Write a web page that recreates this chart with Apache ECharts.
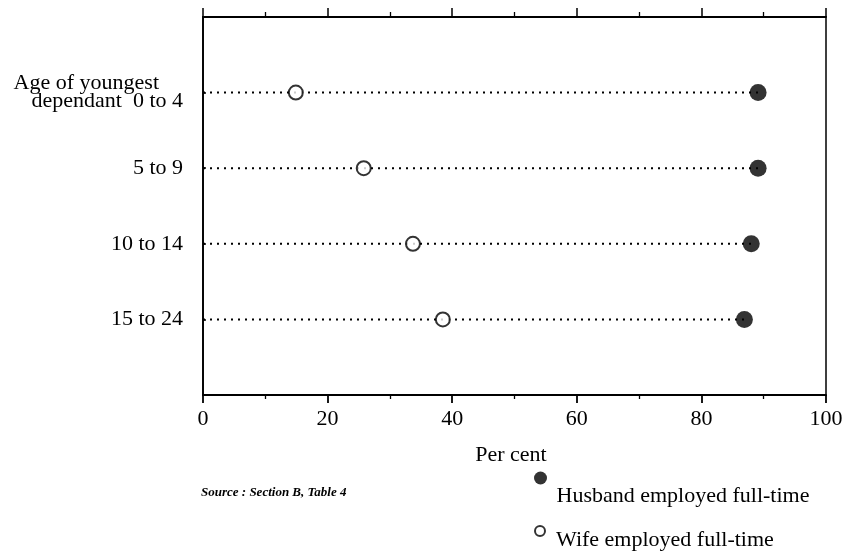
<!DOCTYPE html>
<html><head><meta charset="utf-8">
<script src="https://cdn.jsdelivr.net/npm/echarts@6/dist/echarts.min.js"></script>
<style>html,body{margin:0;padding:0;background:#fff}#c{width:850px;height:559px}</style>
</head><body><div id="c"></div>
<script>
var categories = ['', '0 to 4', '5 to 9', '10 to 14', '15 to 24', ''];
var groups = ['0 to 4', '5 to 9', '10 to 14', '15 to 24'];
var husband = [89.1, 89.1, 88.0, 86.9];
var wife = [14.9, 25.8, 33.7, 38.5];
var xTicks = [0, 20, 40, 60, 80, 100];

var serif = '"Liberation Serif", "Times New Roman", serif';
var chart = echarts.init(document.getElementById('c'));

var lineSeries = groups.map(function (g, i) {
  return {
    type: 'line', silent: true, symbol: 'none', xAxisIndex: 0,
    data: [[0, g], [husband[i], g]],
    lineStyle: {color: '#000', width: 2, type: [2, 5]},
    z: 1
  };
});

chart.setOption({
  animation: false,
  grid: {left: 203, right: 24, top: 17, bottom: 164, show: true, borderColor: '#000', borderWidth: 1.5},
  xAxis: [{
    type: 'value', min: 0, max: 100, interval: 20, position: 'bottom',
    axisLine: {show: true, lineStyle: {color: '#000', width: 1.8}},
    axisTick: {show: true, length: 8, lineStyle: {color: '#000', width: 1.8}},
    minorTick: {show: true, splitNumber: 2, length: 4, lineStyle: {color: '#000', width: 1.3}},
    splitLine: {show: false},
    axisLabel: {color: '#000', fontFamily: serif, fontSize: 22, margin: 13,
      formatter: function (v) { return xTicks.indexOf(v) >= 0 ? String(v) : ''; }},
    name: 'Per cent', nameLocation: 'middle', nameGap: 49,
    nameTextStyle: {color: '#000', fontFamily: serif, fontSize: 22, padding: [0, 7, 0, 0]}
  }, {
    type: 'value', min: 0, max: 100, interval: 20, position: 'top',
    axisLine: {show: true, lineStyle: {color: '#000', width: 1.8}},
    axisTick: {show: true, length: 9, lineStyle: {color: '#000', width: 1.5}},
    minorTick: {show: true, splitNumber: 2, length: 5, lineStyle: {color: '#000', width: 1.3}},
    axisLabel: {show: false}, splitLine: {show: false}
  }],
  yAxis: {
    type: 'category', data: categories, inverse: true, boundaryGap: false,
    axisLine: {show: true, lineStyle: {color: '#000', width: 1.8}},
    axisTick: {show: true, inside: true, length: 3, alignWithLabel: true, lineStyle: {color: '#000', width: 1.5},
      interval: function (i, v) { return v !== ''; }},
    axisLabel: {color: '#000', fontFamily: serif, fontSize: 22, margin: 20,
      formatter: function (v) { return v === '0 to 4' ? '{a|Age of youngest}\n{b|dependant  0 to 4}' : v; },
      rich: {
        a: {fontFamily: serif, fontSize: 22, color: '#000', lineHeight: 18, padding: [0, 24, 0, 0]},
        b: {fontFamily: serif, fontSize: 22, color: '#000', lineHeight: 18, padding: [0, 0, 0, 0]}
      }},
    splitLine: {show: false}
  },
  legend: [{
    orient: 'vertical', left: 534, top: 462, padding: 0, itemWidth: 22, itemHeight: 13,
    data: [{name: 'Husband employed full-time', icon: 'circle'}],
    formatter: function (n) { return '{s|}\n{t|' + n + '}'; },
    textStyle: {color: '#000', fontFamily: serif, fontSize: 22,
      rich: {s: {lineHeight: 36, fontSize: 10}, t: {fontFamily: serif, fontSize: 22, lineHeight: 22, color: '#000'}}}
  }, {
    orient: 'vertical', left: 534, top: 515, padding: 0, itemWidth: 22, itemHeight: 10,
    data: [{name: 'Wife employed full-time', icon: 'circle'}],
    formatter: function (n) { return '{s|}\n{t|' + n + '}'; },
    textStyle: {color: '#000', fontFamily: serif, fontSize: 22,
      rich: {s: {lineHeight: 18, fontSize: 10}, t: {fontFamily: serif, fontSize: 22, lineHeight: 22, color: '#000'}}}
  }],
  graphic: [{
    type: 'text', left: 201, top: 486,
    style: {text: 'Source : Section B, Table 4', fill: '#000', font: 'italic bold 13px ' + serif}
  }],
  series: lineSeries.concat([{
    name: 'Husband employed full-time', type: 'scatter', symbol: 'circle', symbolSize: 17,
    itemStyle: {color: '#000'}, z: 3,
    data: groups.map(function (g, i) { return [husband[i], g]; })
  }, {
    name: 'Wife employed full-time', type: 'scatter', symbol: 'circle', symbolSize: 14,
    itemStyle: {color: '#fff', borderColor: '#000', borderWidth: 2}, z: 3,
    data: groups.map(function (g, i) { return [wife[i], g]; })
  }])
});
</script></body></html>
